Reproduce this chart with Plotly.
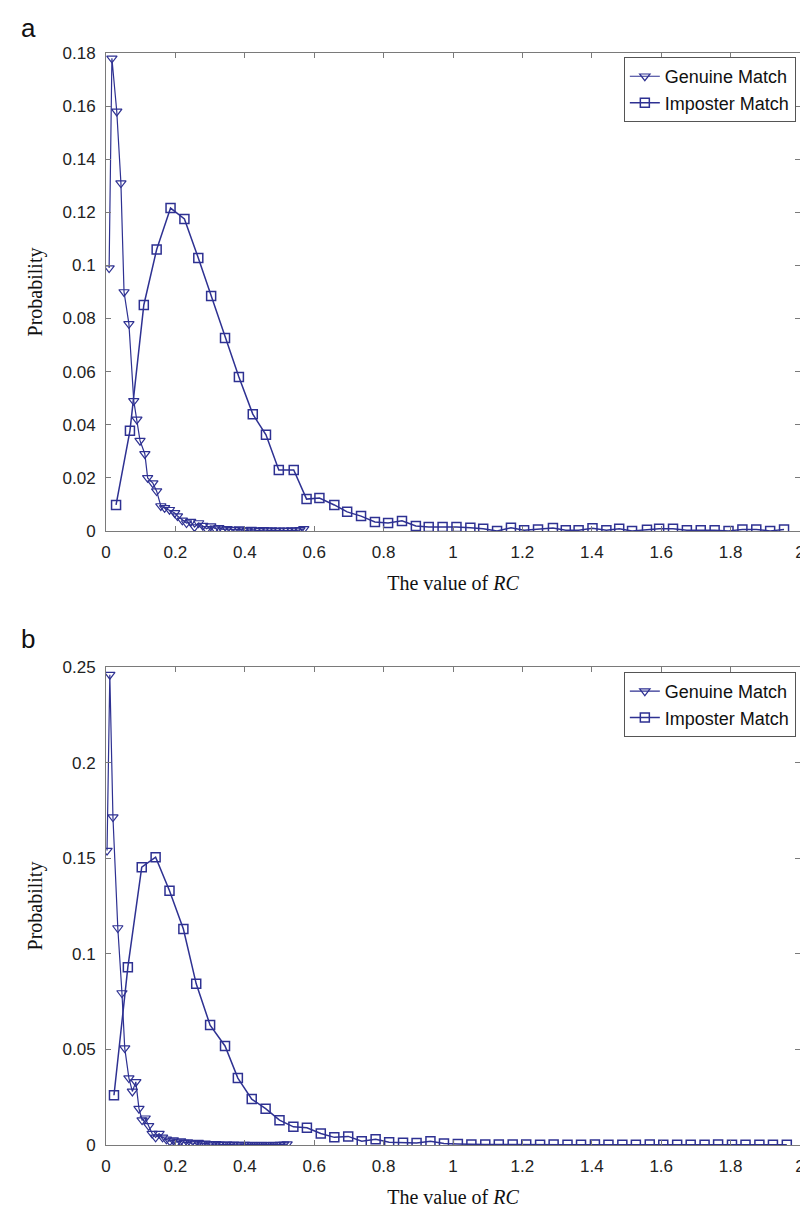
import plotly.graph_objects as go

# panel a
gen_a_x = [0.009, 0.017, 0.031, 0.043, 0.052, 0.066, 0.080, 0.089, 0.098, 0.112,
           0.120, 0.135, 0.146, 0.158, 0.169, 0.183, 0.198, 0.206, 0.220, 0.232,
           0.244, 0.255, 0.267, 0.279, 0.290, 0.302, 0.314, 0.325, 0.337, 0.349,
           0.360, 0.372, 0.384, 0.395, 0.407, 0.419, 0.430, 0.442, 0.454, 0.465,
           0.477, 0.489, 0.500, 0.512, 0.524, 0.535, 0.547, 0.559, 0.570]
gen_a_y = [0.099, 0.178, 0.158, 0.131, 0.090, 0.078, 0.049, 0.042, 0.034, 0.029,
           0.020, 0.018, 0.015, 0.0094, 0.0087, 0.0080, 0.0068, 0.0056, 0.0040, 0.0030,
           0.0035, 0.0015, 0.0030, 0.0020, 0.0008, 0.0018, 0.0010, 0.0012, 0.0006, 0.0008,
           0.0005, 0.0004, 0.0007, 0.0003, 0.0002, 0.0005, 0.0003, 0.0001, 0.0004, 0.0002,
           0.0003, 0.0001, 0.0002, 0.0002, 0.0001, 0.0003, 0.0002, 0.0004, 0.0008]

imp_a_x = [0.029, 0.069, 0.109, 0.146, 0.186, 0.226, 0.266, 0.303, 0.343, 0.383,
           0.423, 0.461, 0.498, 0.541, 0.578, 0.615, 0.658, 0.695, 0.735, 0.775,
           0.813, 0.853, 0.893, 0.930, 0.970, 1.010, 1.050, 1.087, 1.127, 1.167,
           1.205, 1.245, 1.288, 1.325, 1.362, 1.402, 1.442, 1.479, 1.516, 1.559,
           1.594, 1.634, 1.674, 1.714, 1.754, 1.794, 1.834, 1.874, 1.914, 1.954]
imp_a_y = [0.0098, 0.0377, 0.0851, 0.106, 0.1216, 0.1175, 0.1028, 0.0885, 0.0727, 0.058,
           0.044, 0.0362, 0.023, 0.023, 0.012, 0.0124, 0.0098, 0.0072, 0.0056, 0.0034,
           0.0030, 0.0038, 0.0019, 0.0015, 0.0015, 0.0015, 0.0012, 0.0008, 0.0, 0.0012,
           0.0003, 0.0006, 0.0011, 0.0003, 0.0003, 0.0010, 0.0003, 0.0008, 0.0, 0.0005,
           0.0008, 0.0008, 0.0003, 0.0003, 0.0003, 0.0, 0.0006, 0.0006, 0.0, 0.0006]

# panel b
gen_b_x = [0.003, 0.011, 0.020, 0.034, 0.046, 0.054, 0.066, 0.076, 0.086, 0.095,
           0.104, 0.113, 0.123, 0.133, 0.143, 0.153, 0.163, 0.174, 0.184, 0.194,
           0.204, 0.215, 0.225, 0.235, 0.245, 0.256, 0.266, 0.276, 0.286, 0.297,
           0.307, 0.317, 0.327, 0.338, 0.348, 0.358, 0.368, 0.379, 0.389, 0.399,
           0.409, 0.420, 0.430, 0.440, 0.450, 0.461, 0.471, 0.481, 0.491, 0.502,
           0.512, 0.522]
gen_b_y = [0.154, 0.246, 0.1715, 0.1135, 0.0795, 0.0507, 0.035, 0.028, 0.033, 0.019,
           0.013, 0.014, 0.010, 0.006, 0.004, 0.006, 0.004, 0.003, 0.002, 0.0025,
           0.0015, 0.002, 0.0012, 0.0015, 0.001, 0.0008, 0.0012, 0.0006, 0.0008, 0.0005,
           0.0004, 0.0006, 0.0003, 0.0002, 0.0004, 0.0002, 0.0003, 0.0001, 0.0002, 0.0002,
           0.0001, 0.0002, 0.0001, 0.0001, 0.0002, 0.0001, 0.0001, 0.0002, 0.0001, 0.0002,
           0.0003, 0.0005]

imp_b_x = [0.023, 0.063, 0.103, 0.143, 0.183, 0.223, 0.260, 0.300, 0.343, 0.380,
           0.420, 0.460, 0.500, 0.540, 0.579, 0.619, 0.658, 0.698, 0.737, 0.777,
           0.816, 0.856, 0.895, 0.935, 0.974, 1.014, 1.053, 1.093, 1.132, 1.172,
           1.211, 1.251, 1.290, 1.330, 1.369, 1.409, 1.448, 1.488, 1.527, 1.567,
           1.606, 1.646, 1.685, 1.725, 1.764, 1.804, 1.843, 1.883, 1.922, 1.962]
imp_b_y = [0.026, 0.093, 0.1453, 0.1505, 0.133, 0.113, 0.0843, 0.0627, 0.0518, 0.035,
           0.024, 0.019, 0.013, 0.0095, 0.009, 0.006, 0.004, 0.0045, 0.002, 0.003,
           0.0015, 0.0012, 0.001, 0.002, 0.0008, 0.0005, 0.0003, 0.0002, 0.0003, 0.0002,
           0.0002, 0.0001, 0.0002, 0.0001, 0.0001, 0.0002, 0.0001, 0.0001, 0.0001, 0.0002,
           0.0001, 0.0001, 0.0001, 0.0001, 0.0002, 0.0001, 0.0001, 0.0001, 0.0001, 0.0001]

x_ticks = [0, 0.2, 0.4, 0.6, 0.8, 1, 1.2, 1.4, 1.6, 1.8, 2]
y_ticks_a = [0, 0.02, 0.04, 0.06, 0.08, 0.1, 0.12, 0.14, 0.16, 0.18]
y_ticks_b = [0, 0.05, 0.1, 0.15, 0.2, 0.25]

BLUE = "#2e3192"
SANS = "Liberation Sans, Arial, sans-serif"
SERIF = "Liberation Serif, Times New Roman, serif"

fig = go.Figure()


def add_pair(gx, gy, ix, iy, xa, ya, legend):
    fig.add_trace(go.Scatter(
        x=gx, y=gy, mode="lines+markers", name="Genuine Match",
        line=dict(color=BLUE, width=1.2),
        marker=dict(symbol="triangle-down-open", size=9, color=BLUE, line=dict(width=1.2)),
        xaxis=xa, yaxis=ya, legend=legend,
    ))
    fig.add_trace(go.Scatter(
        x=ix, y=iy, mode="lines+markers", name="Imposter Match",
        line=dict(color=BLUE, width=1.5),
        marker=dict(symbol="square-open", size=9, color=BLUE, line=dict(width=1.5)),
        xaxis=xa, yaxis=ya, legend=legend,
    ))


add_pair(gen_a_x, gen_a_y, imp_a_x, imp_a_y, "x", "y", "legend")
add_pair(gen_b_x, gen_b_y, imp_b_x, imp_b_y, "x2", "y2", "legend2")

axis_style = dict(
    showline=True, linecolor="#7a7a7a", linewidth=1, mirror="ticks",
    ticks="inside", ticklen=5, tickcolor="#7a7a7a", showgrid=False, zeroline=False,
    tickfont=dict(family=SANS, size=17, color="#222"),
)
title_font = dict(family=SERIF, size=20, color="#111")
legend_style = dict(xanchor="right", yanchor="top", bordercolor="#555", borderwidth=1,
                    bgcolor="white", font=dict(family=SANS, size=18, color="#111"),
                    tracegroupgap=0)

fig.update_layout(
    width=808, height=1209,
    margin=dict(l=98, r=11, t=45, b=72),
    paper_bgcolor="white", plot_bgcolor="white",
    showlegend=True,
    xaxis=dict(axis_style, domain=[0, 1], anchor="y", range=[0, 2],
               tickvals=x_ticks, ticktext=[str(v) for v in x_ticks], ticklabelstandoff=6,
               title=dict(text="The value of <i>RC</i>", font=title_font, standoff=14)),
    yaxis=dict(axis_style, domain=[0.5623, 1], anchor="x", range=[0, 0.18],
               tickvals=y_ticks_a, ticktext=[str(v) for v in y_ticks_a], ticklabelstandoff=6,
               title=dict(text="Probability", font=title_font, standoff=14)),
    xaxis2=dict(axis_style, domain=[0, 1], anchor="y2", range=[0, 2],
                tickvals=x_ticks, ticktext=[str(v) for v in x_ticks], ticklabelstandoff=6,
                title=dict(text="The value of <i>RC</i>", font=title_font, standoff=14)),
    yaxis2=dict(axis_style, domain=[0, 0.4377], anchor="x2", range=[0, 0.25],
                tickvals=y_ticks_b, ticktext=[str(v) for v in y_ticks_b], ticklabelstandoff=6,
                title=dict(text="Probability", font=title_font, standoff=14)),
    legend=dict(legend_style, x=0.994, y=0.9963),
    legend2=dict(legend_style, x=0.994, y=0.4332),
    annotations=[
        dict(text="a", xref="paper", yref="paper", x=-0.126, y=1.0225,
             xanchor="left", yanchor="middle", showarrow=False,
             font=dict(family=SANS, size=26, color="#111")),
        dict(text="b", xref="paper", yref="paper", x=-0.126, y=0.4637,
             xanchor="left", yanchor="middle", showarrow=False,
             font=dict(family=SANS, size=26, color="#111")),
    ],
)

fig.write_html("out.html")
